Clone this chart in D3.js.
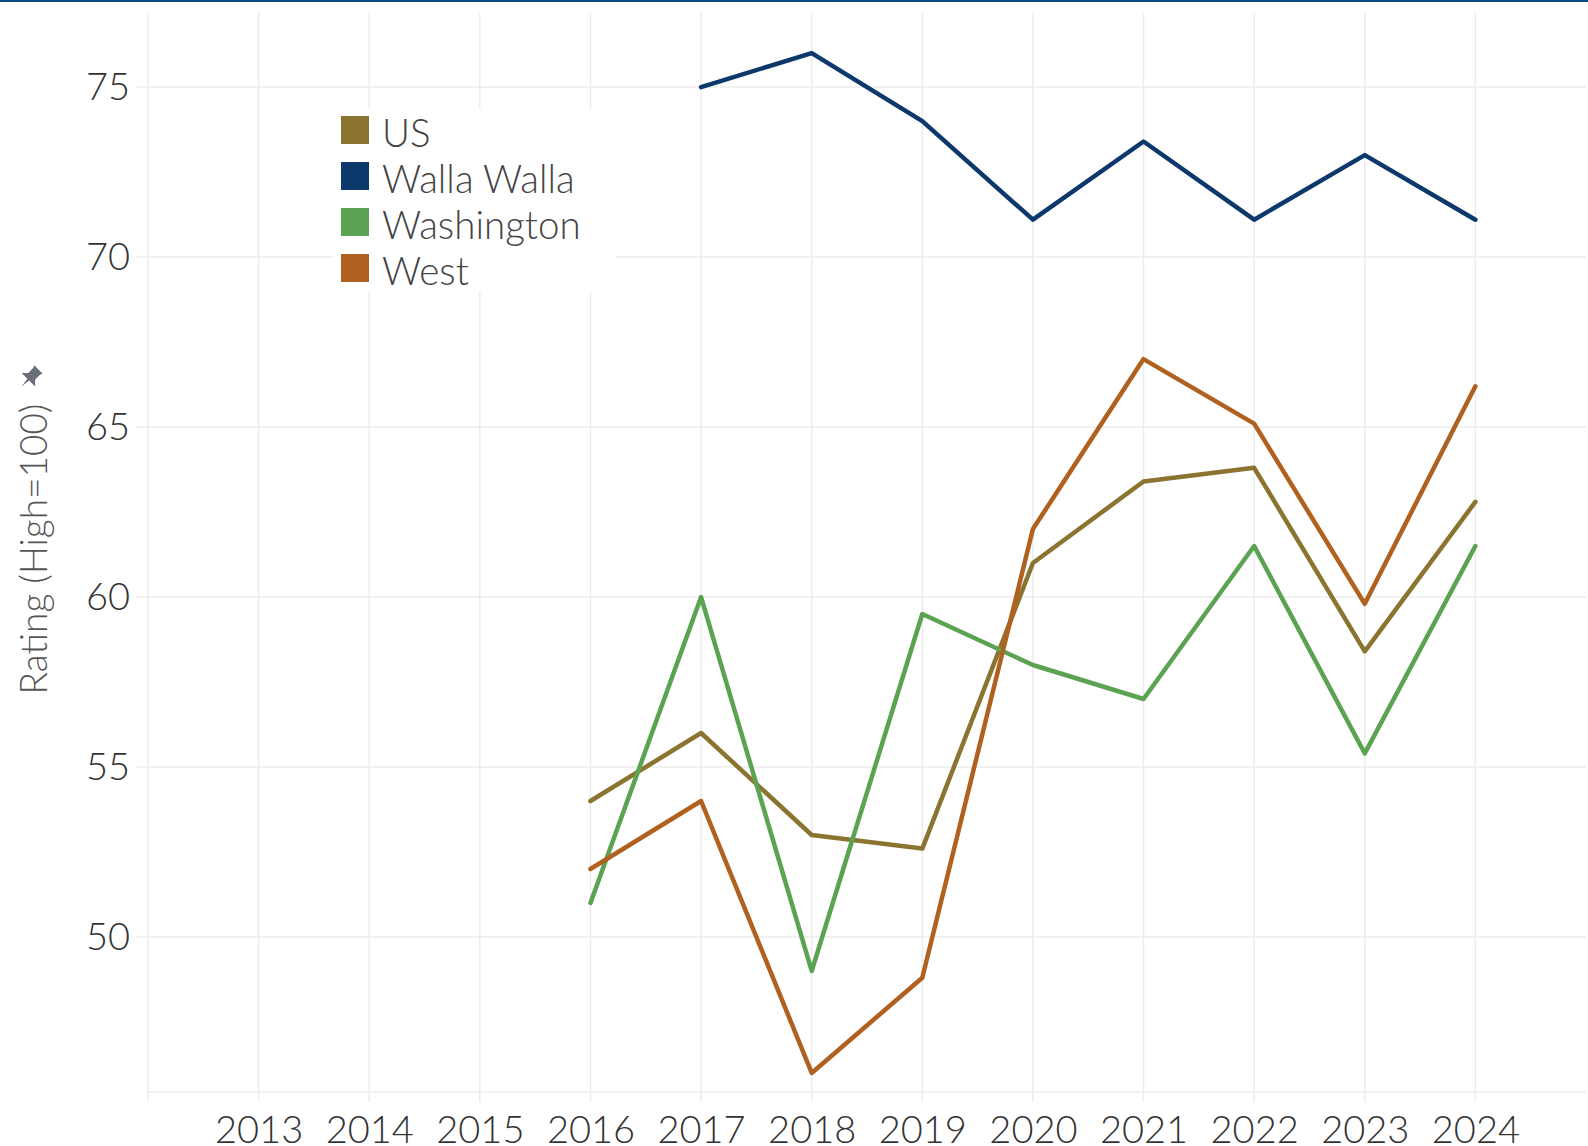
<!DOCTYPE html>
<html>
<head>
<meta charset="utf-8">
<script src="https://cdn.jsdelivr.net/npm/d3@7"></script>
<style>
  body { margin: 0; background: #fff; }
  svg { display: block; }
  svg text { font-family: Lato, "Open Sans", sans-serif; }
</style>
</head>
<body>
<script>
// chart data
let years = [2016, 2017, 2018, 2019, 2020, 2021, 2022, 2023, 2024];
let yearTicks = [2013, 2014, 2015, 2016, 2017, 2018, 2019, 2020, 2021, 2022, 2023, 2024];
let ratingTicks = [50, 55, 60, 65, 70, 75];

let seriesNames = ["US", "Walla Walla", "Washington", "West"];
let seriesColors = ["#8b7430", "#0c386b", "#5ba352", "#b0611f"];

let usValues = [54, 56, 53, 52.6, 61, 63.4, 63.8, 58.4, 62.8];
let wallaValues = [null, 75, 76, 74, 71.1, 73.4, 71.1, 73, 71.1];
let washingtonValues = [51, 60, 49, 59.5, 58, 57, 61.5, 55.4, 61.5];
let westValues = [52, 54, 46, 48.8, 62, 67, 65.1, 59.8, 66.2];

let seriesValues = [usValues, wallaValues, washingtonValues, westValues];

var margin = {top: 13, right: 2, bottom: 54, left: 148},
    width = 1588 - margin.left - margin.right,
    height = 1146 - margin.top - margin.bottom;

var root = d3.select("body").append("svg")
    .attr("width", 1588)
    .attr("height", 1146);

// thin bar across the top
root.append("rect")
    .attr("x", 0).attr("y", 0)
    .attr("width", 1588).attr("height", 2)
    .style("fill", "#0b4a82");

var svg = root.append("g")
    .attr("transform", "translate(" + margin.left + "," + margin.top + ")");

var x = d3.scaleLinear().domain([2012, 2025]).range([0, width]);
var y = d3.scaleLinear().domain([45.44, 77.18]).range([height, 0]);

// grid
svg.selectAll(".vgrid")
    .data([2012].concat(yearTicks))
    .enter().append("line")
    .attr("class", "vgrid")
    .attr("x1", d => x(d)).attr("x2", d => x(d))
    .attr("y1", 0).attr("y2", height + 10)
    .style("stroke", "#ececec")
    .style("stroke-width", 1.5);

svg.selectAll(".hgrid")
    .data(ratingTicks)
    .enter().append("line")
    .attr("class", "hgrid")
    .attr("x1", -11).attr("x2", width)
    .attr("y1", d => y(d)).attr("y2", d => y(d))
    .style("stroke", "#ececec")
    .style("stroke-width", 1.5);

svg.append("line")
    .attr("x1", 0).attr("x2", width)
    .attr("y1", height).attr("y2", height)
    .style("stroke", "#ececec")
    .style("stroke-width", 1.5);

// axes (labels only, grid drawn above)
var xAxis = svg.append("g")
    .attr("transform", "translate(0," + height + ")")
    .call(d3.axisBottom(x).tickValues(yearTicks).tickFormat(d3.format("d")).tickSize(0).tickPadding(24));
xAxis.select(".domain").remove();
xAxis.selectAll("text")
    .style("font-family", "Lato, sans-serif")
    .style("font-size", "38px")
    .style("font-weight", 300)
    .style("fill", "#333");

var yAxis = svg.append("g")
    .call(d3.axisLeft(y).tickValues(ratingTicks).tickSize(0).tickPadding(18));
yAxis.select(".domain").remove();
yAxis.selectAll("text")
    .style("font-family", "Lato, sans-serif")
    .style("font-size", "38px")
    .style("font-weight", 300)
    .style("fill", "#333");

// lines
var line = d3.line()
    .defined(d => d[1] !== null)
    .x(d => x(d[0]))
    .y(d => y(d[1]));

seriesValues.forEach((vals, i) => {
    svg.append("path")
        .datum(years.map((yr, j) => [yr, vals[j]]))
        .attr("class", "line")
        .attr("d", line)
        .style("fill", "none")
        .style("stroke", seriesColors[i])
        .style("stroke-width", 4.5)
        .style("stroke-linejoin", "round")
        .style("stroke-linecap", "round");
});

// legend
var legend = root.append("g");
legend.append("rect")
    .attr("x", 333).attr("y", 109)
    .attr("width", 282).attr("height", 183)
    .style("fill", "#fff");

seriesNames.forEach((name, i) => {
    legend.append("rect")
        .attr("x", 341).attr("y", 116 + i * 46)
        .attr("width", 28).attr("height", 28)
        .style("fill", seriesColors[i]);
    legend.append("text")
        .attr("x", 382).attr("y", 133 + i * 46)
        .attr("dy", "0.36em")
        .style("font-size", "38.5px")
        .style("font-weight", 300)
        .style("fill", "#444")
        .text(name);
});

// y axis title with pin
root.append("text")
    .attr("transform", "translate(34,549) rotate(-90)")
    .attr("dy", "0.36em")
    .style("text-anchor", "middle")
    .style("font-size", "37px")
    .style("font-weight", 300)
    .style("fill", "#555")
    .text("Rating (High=100)");

root.append("path")
    .attr("transform", "translate(30,378) rotate(45) scale(1.2)")
    .attr("d", "M-5,-10 L5,-10 L4,-8 L4,-2 L8,2 L1,2 L0,10 L-1,2 L-8,2 L-4,-2 L-4,-8 Z")
    .style("fill", "#6b6f78");
</script>
</body>
</html>
